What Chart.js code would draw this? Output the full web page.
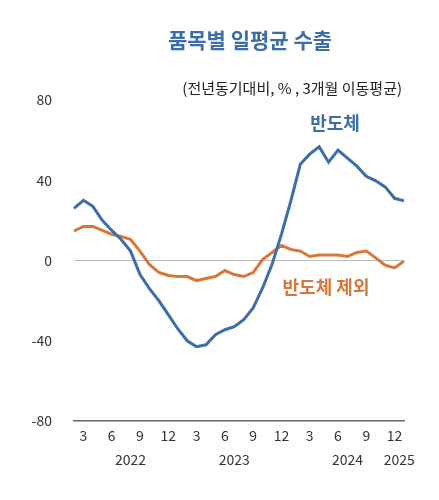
<!DOCTYPE html>
<html><head><meta charset="utf-8">
<script src="https://cdn.jsdelivr.net/npm/chart.js@4/dist/chart.umd.min.js"></script>
<style>html,body{margin:0;padding:0;background:#fff}#w{width:439px;height:500px;position:relative}</style>
</head><body><div id="w"><canvas id="c"></canvas></div>
<script>
const months = [2,3,4,5,6,7,8,9,10,11,12,1,2,3,4,5,6,7,8,9,10,11,12,1,2,3,4,5,6,7,8,9,10,11,12,1];
const semiconductor = [26,30,27,20,15,10.5,4.7,-7,-14,-20,-27,-34,-40,-43,-42,-37,-34.5,-33,-29.5,-23.7,-13.7,-2,13,29.7,48,53,56.7,49,55,51,47,42,39.7,36.7,31,29.7];
const excludingSemi = [14.7,17,17,15,13,12,10.5,4.7,-2,-6,-7.5,-8,-8,-10,-9,-8,-5,-7,-8,-6,0.5,4,7.5,5.5,4.7,2,2.7,2.7,2.7,2,4,4.7,1.3,-2.3,-3.7,-0.3];
const yearLabels = ['2022','2023','2024','2025'];
const yearPos = [6,17,29,34.5];
const yTicks = [80,40,0,-40,-80];
const F = "'Noto Sans CJK KR','Noto Sans',sans-serif";

const textPlugin = {
  id:'txt',
  afterDraw(ch){
    const c=ch.ctx, x=ch.scales.x;
    c.save();
    c.textBaseline='middle';
    c.fillStyle='#3d6ea8'; c.font="bold 21px "+F; c.textAlign='center';
    c.fillText('품목별 일평균 수출',250,40);
    c.fillStyle='#222'; c.font="15px "+F; c.textAlign='right';
    c.fillText('(전년동기대비, % , 3개월 이동평균)',402,88);
    c.fillStyle='#3d6ea8'; c.font="bold 18px "+F; c.textAlign='center';
    c.fillText('반도체',335,123);
    c.fillStyle='#d9763a';
    c.fillText('반도체 제외',326,287);
    c.fillStyle='#333'; c.font="14px "+F;
    yearLabels.forEach((t,i)=>{
      const p=yearPos[i], a=Math.floor(p), b=Math.ceil(p);
      const px=x.getPixelForValue(a)+(x.getPixelForValue(b)-x.getPixelForValue(a))*(p-a);
      c.fillText(t,px,460);
    });
    c.restore();
  }
};

new Chart(document.getElementById('c'),{
  type:'line',
  data:{labels:months.map(String),datasets:[
    {data:semiconductor,borderColor:'#3d6ea8',borderWidth:3,pointRadius:0,tension:0},
    {data:excludingSemi,borderColor:'#d9763a',borderWidth:3,pointRadius:0,tension:0}
  ]},
  options:{
    responsive:true,maintainAspectRatio:false,animation:false,
    layout:{padding:{left:0,right:35,top:100,bottom:0}},
    plugins:{legend:{display:false},tooltip:{enabled:false}},
    scales:{
      x:{offset:false,
        grid:{display:false,drawTicks:false},
        border:{display:true,color:'#666',width:1.5},
        afterFit(s){s.height=79;},
        ticks:{autoSkip:false,maxRotation:0,padding:6,color:'#333',font:{family:F,size:14},
          callback:(v,i)=>[3,6,9,12].includes(months[i])?String(months[i]):''}},
      y:{min:-80,max:80,
        afterFit(s){s.width=74;},
        afterBuildTicks(s){s.ticks=yTicks.map(v=>({value:v}));},
        border:{display:false},
        grid:{drawTicks:false,color:c=>c.tick.value===0?'#bbb':'transparent',lineWidth:1},
        ticks:{padding:22,color:'#333',font:{family:F,size:14}}}
    }
  },
  plugins:[textPlugin]
});
</script></body></html>
